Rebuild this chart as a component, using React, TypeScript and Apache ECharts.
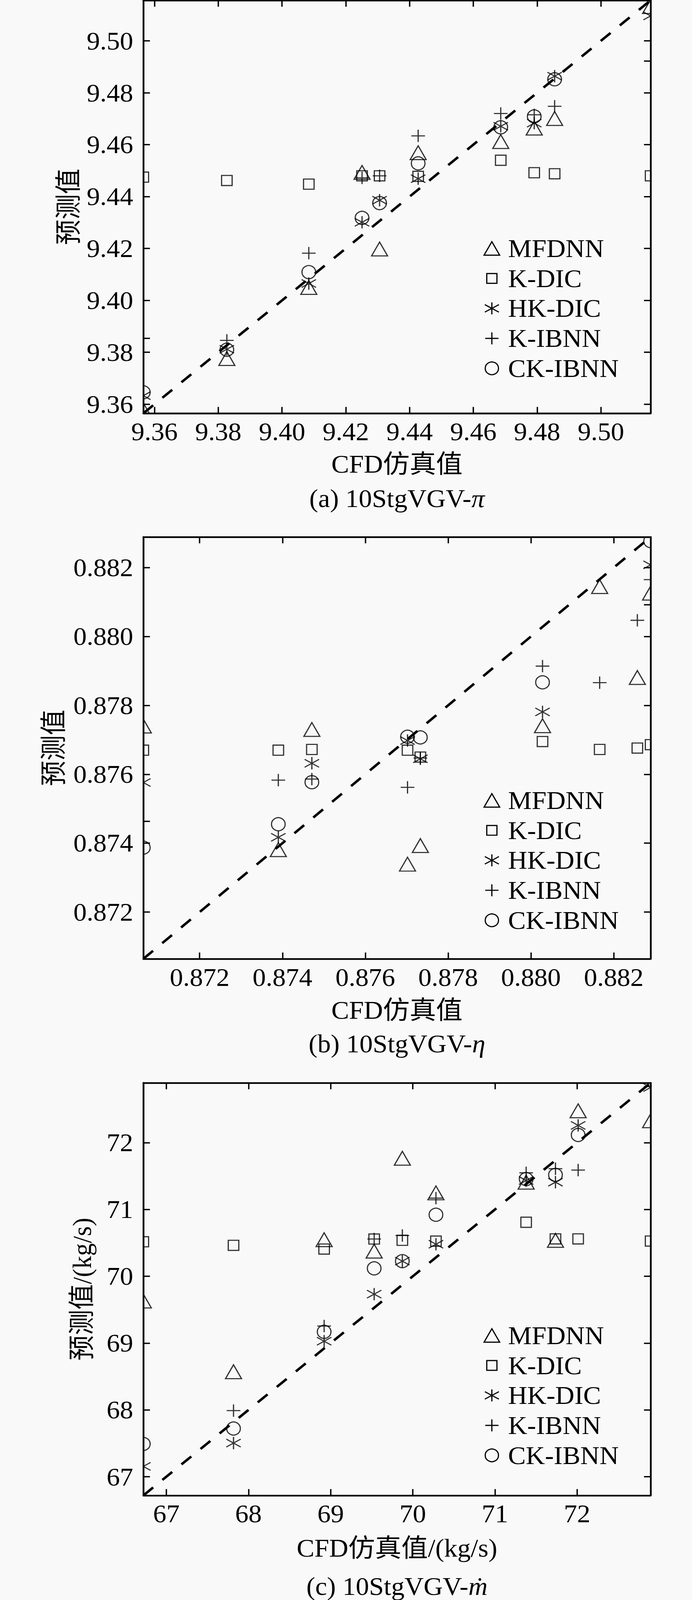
import React, { useEffect, useRef } from "react";
import * as echarts from "echarts";

// ---------------- data ----------------
const seriesNames = ["MFDNN", "K-DIC", "HK-DIC", "K-IBNN", "CK-IBNN"];

// (a) 10StgVGV-pi
const cfdA = [9.3565, 9.3827, 9.4084, 9.4251, 9.4306, 9.4427, 9.4686, 9.4791, 9.4855, 9.5156];
const mfdnnA = [9.3578, 9.3776, 9.405, 9.4493, 9.4198, 9.4569, 9.4612, 9.4664, 9.4701, 9.5132];
const kdicA = [9.4475, 9.4462, 9.4448, 9.448, 9.448, 9.4478, 9.454, 9.4492, 9.4488, 9.448];
const hkdicA = [9.3633, 9.3812, 9.4065, 9.4301, 9.4386, 9.4469, 9.4671, 9.4683, 9.4864, 9.5096];
const kibnnA = [null, 9.3846, 9.4182, 9.4472, 9.448, 9.4634, 9.472, 9.4715, 9.4748, null];
const ckibnnA = [9.3646, 9.381, 9.4109, 9.4318, 9.4375, 9.4528, 9.4667, 9.4709, 9.4852, null];

// (b) 10StgVGV-eta
const cfdB = [0.87064, 0.8739, 0.87471, 0.87702, 0.87733, 0.88028, 0.88166, 0.88257, 0.88289];
const mfdnnB = [0.8774, 0.87381, 0.8773, 0.87339, 0.87393, 0.87741, 0.88145, 0.87881, 0.88126];
const kdicB = [0.8767, 0.8767, 0.87672, 0.8767, 0.8765, 0.87695, 0.87672, 0.87676, 0.87686];
const hkdicB = [0.87576, 0.87417, 0.87632, 0.87698, 0.87645, 0.87781, null, null, 0.88208];
const kibnnB = [null, 0.87583, 0.87586, 0.87562, 0.87647, 0.87914, 0.87866, 0.88047, 0.88165];
const ckibnnB = [0.87387, 0.87455, 0.87577, 0.87709, 0.87707, 0.87867, null, null, 0.88277];

// (c) 10StgVGV-mdot
const cfdC = [66.72, 67.818, 68.921, 69.53, 69.873, 70.282, 71.38, 71.737, 72.013, 72.895];
const mfdnnC = [69.63, 68.572, 70.548, 70.377, 71.767, 71.249, 71.409, 70.538, 72.477, 72.328];
const kdicC = [70.517, 70.464, 70.408, 70.558, 70.539, 70.527, 70.809, 70.56, 70.56, 70.528];
const hkdicC = [67.155, 67.504, 69.029, 69.733, 70.227, 70.48, 71.434, 71.409, 72.259, 72.826];
const kibnnC = [null, 67.99, 69.256, 70.558, 70.611, 71.17, 71.549, 71.611, 71.59, 72.84];
const ckibnnC = [67.491, 67.722, 69.169, 70.119, 70.227, 70.922, 71.456, 71.518, 72.116, null];

// axis ranges and ticks
const rangeA = [9.3565, 9.5156];
const rangeB = [0.87064, 0.88289];
const rangeC = [66.72, 72.895];
const ticksA = [9.36, 9.38, 9.4, 9.42, 9.44, 9.46, 9.48, 9.5];
const ticksB = [0.872, 0.874, 0.876, 0.878, 0.88, 0.882];
const ticksC = [67, 68, 69, 70, 71, 72];
const extraLeftA = [9.3854];
const extraRightA = [9.4922];
const extraLeftB = [0.87463];
const extraRightB = [0.88092];

const xNames = ["CFD仿真值", "CFD仿真值", "CFD仿真值/(kg/s)"];
const yNames = ["预测值", "预测值", "预测值/(kg/s)"];
const captionHeads = ["(a) 10StgVGV-", "(b) 10StgVGV-", "(c) 10StgVGV-"];
const captionSymbols = ["π", "η", "ṁ"];

// ---------------- styling ----------------
const FONT = "'Liberation Serif', 'Times New Roman', 'Noto Sans CJK SC', serif";
const BG = "#f9f9f9";
const FS = 68;
const PAGE_W = 1772;
const PAGE_H = 4270;
const GRIDS = [
  { left: 367, top: 1, w: 1299, h: 1102 },
  { left: 367, top: 1433, w: 1299, h: 1126 },
  { left: 367, top: 2890, w: 1299, h: 1101 },
];
const Y_NAME_GAP = [157, 195, 123];
const X_NAME_GAP = [101, 103, 106];
const CAPTION_GAP = [227, 226, 242];
const LEGEND_FIRST = [663, 2136, 3564];
const LEGEND_STEP = 80;
const DECIMALS = [2, 3, 0];

const ASTERISK = "path://M0,-0.86L0,0.86M-1,-0.55L1,0.55M-1,0.55L1,-0.55";
const PLUS = "path://M0,-1L0,1M-1,0L1,0";
const SYMBOLS: any[] = [
  { symbol: "triangle", size: [41, 37] },
  { symbol: "rect", size: [27, 27] },
  { symbol: ASTERISK, size: [37, 33] },
  { symbol: PLUS, size: [35, 33] },
  { symbol: "circle", size: [35, 35] },
];

function pairs(xs: number[], ys: (number | null)[]) {
  const out: number[][] = [];
  xs.forEach((x, i) => {
    const y = ys[i];
    if (y !== null && y !== undefined) out.push([x, y]);
  });
  return out;
}

function buildOption() {
  const panels = [
    { xs: cfdA, ys: [mfdnnA, kdicA, hkdicA, kibnnA, ckibnnA], range: rangeA, ticks: ticksA, exL: extraLeftA, exR: extraRightA },
    { xs: cfdB, ys: [mfdnnB, kdicB, hkdicB, kibnnB, ckibnnB], range: rangeB, ticks: ticksB, exL: extraLeftB, exR: extraRightB },
    { xs: cfdC, ys: [mfdnnC, kdicC, hkdicC, kibnnC, ckibnnC], range: rangeC, ticks: ticksC, exL: [], exR: [] },
  ];

  const lineStyle = { color: "#000", width: 4.5 };
  const tickStyle = { color: "#000", width: 3.5 };
  const labelStyle = { fontSize: FS, fontFamily: FONT, color: "#000" };

  const xAxis: any[] = [];
  const yAxis: any[] = [];
  const series: any[] = [];
  const elements: any[] = [];

  panels.forEach((p, k) => {
    const fmt = (v: number) => Number(v).toFixed(DECIMALS[k]);
    const base = {
      type: "value",
      gridIndex: k,
      min: p.range[0],
      max: p.range[1],
      splitLine: { show: false },
      z: 10,
      nameMoveOverlap: false,
    };
    xAxis.push({
      ...base,
      position: "bottom",
      axisLine: { show: true, onZero: false, lineStyle },
      axisTick: { show: true, inside: true, length: 17, lineStyle: tickStyle, customValues: p.ticks },
      axisLabel: { show: true, margin: 15, formatter: fmt, customValues: p.ticks, ...labelStyle },
      name: xNames[k],
      nameLocation: "middle",
      nameGap: X_NAME_GAP[k],
      nameTextStyle: labelStyle,
    });
    xAxis.push({
      ...base,
      position: "top",
      axisLine: { show: true, onZero: false, lineStyle },
      axisTick: { show: true, inside: true, length: 17, lineStyle: tickStyle, customValues: p.ticks },
      axisLabel: { show: false },
    });
    yAxis.push({
      ...base,
      position: "left",
      axisLine: { show: true, onZero: false, lineStyle },
      axisTick: {
        show: true,
        inside: true,
        length: 17,
        lineStyle: tickStyle,
        customValues: [...p.ticks, ...p.exL].sort((a, b) => a - b),
      },
      axisLabel: { show: true, margin: 26, formatter: fmt, customValues: p.ticks, ...labelStyle },
      name: yNames[k],
      nameLocation: "middle",
      nameGap: Y_NAME_GAP[k],
      nameTextStyle: labelStyle,
    });
    yAxis.push({
      ...base,
      position: "right",
      axisLine: { show: true, onZero: false, lineStyle },
      axisTick: {
        show: true,
        inside: true,
        length: 17,
        lineStyle: tickStyle,
        customValues: [...p.ticks, ...p.exR].sort((a, b) => a - b),
      },
      axisLabel: { show: false },
    });

    series.push({
      type: "line",
      xAxisIndex: 2 * k,
      yAxisIndex: 2 * k,
      data: [
        [p.range[0], p.range[0]],
        [p.range[1], p.range[1]],
      ],
      symbol: "none",
      clip: false,
      silent: true,
      z: 1,
      lineStyle: { color: "#000", width: 6.5, type: [33, 31], cap: "butt" },
    });

    seriesNames.forEach((name, s) => {
      series.push({
        type: "scatter",
        name,
        xAxisIndex: 2 * k,
        yAxisIndex: 2 * k,
        data: pairs(p.xs, p.ys[s]),
        symbol: SYMBOLS[s].symbol,
        symbolSize: SYMBOLS[s].size,
        clip: false,
        silent: true,
        z: 2,
        itemStyle: { color: "rgba(0,0,0,0)", borderColor: "#000", borderWidth: 3 },
      });
    });

    // masks that clip half-symbols at the frame
    const g = GRIDS[k];
    const m = 45;
    const maskStyle = { fill: BG };
    elements.push(
      { type: "rect", z: 5, silent: true, shape: { x: g.left - m, y: g.top - m, width: m, height: g.h + 2 * m }, style: maskStyle },
      { type: "rect", z: 5, silent: true, shape: { x: g.left + g.w, y: g.top - m, width: m, height: g.h + 2 * m }, style: maskStyle },
      { type: "rect", z: 5, silent: true, shape: { x: g.left - m, y: g.top - m, width: g.w + 2 * m, height: m }, style: maskStyle },
      { type: "rect", z: 5, silent: true, shape: { x: g.left - m, y: g.top + g.h, width: g.w + 2 * m, height: m }, style: maskStyle }
    );

    // legend
    const cx = 1259.5;
    const tx = 1301;
    const sty = { fill: "none", stroke: "#000", lineWidth: 3 };
    seriesNames.forEach((name, s) => {
      const cy = LEGEND_FIRST[k] + s * LEGEND_STEP;
      if (s === 0) {
        elements.push({ type: "polygon", z: 6, silent: true, shape: { points: [[cx - 20, cy + 18], [cx + 20, cy + 18], [cx, cy - 18]] }, style: sty });
      } else if (s === 1) {
        elements.push({ type: "rect", z: 6, silent: true, shape: { x: cx - 13, y: cy - 13, width: 26, height: 26 }, style: sty });
      } else if (s === 2) {
        elements.push(
          { type: "line", z: 6, silent: true, shape: { x1: cx, y1: cy - 16, x2: cx, y2: cy + 16 }, style: sty },
          { type: "line", z: 6, silent: true, shape: { x1: cx - 18, y1: cy - 10, x2: cx + 18, y2: cy + 10 }, style: sty },
          { type: "line", z: 6, silent: true, shape: { x1: cx - 18, y1: cy + 10, x2: cx + 18, y2: cy - 10 }, style: sty }
        );
      } else if (s === 3) {
        elements.push(
          { type: "line", z: 6, silent: true, shape: { x1: cx, y1: cy - 16, x2: cx, y2: cy + 16 }, style: sty },
          { type: "line", z: 6, silent: true, shape: { x1: cx - 17, y1: cy, x2: cx + 17, y2: cy }, style: sty }
        );
      } else {
        elements.push({ type: "circle", z: 6, silent: true, shape: { cx, cy, r: 17 }, style: sty });
      }
      elements.push({
        type: "text",
        z: 6,
        silent: true,
        x: tx,
        y: cy,
        style: { text: name, fontSize: FS, fontFamily: FONT, fill: "#000", align: "left", verticalAlign: "middle" },
      });
    });

    // caption
    elements.push({
      type: "text",
      z: 6,
      silent: true,
      x: g.left + g.w / 2,
      y: g.top + g.h + CAPTION_GAP[k],
      style: {
        text: captionHeads[k] + "{i|" + captionSymbols[k] + "}",
        fontSize: FS,
        fontFamily: FONT,
        fill: "#000",
        align: "center",
        verticalAlign: "middle",
        rich: { i: { fontSize: FS, fontFamily: FONT, fontStyle: "italic", fill: "#000" } },
      },
    });
  });

  return {
    animation: false,
    backgroundColor: BG,
    grid: GRIDS.map((g) => ({
      left: g.left,
      top: g.top,
      width: g.w,
      height: g.h,
      show: false,
      containLabel: false,
      outerBoundsMode: "none",
    })),
    xAxis,
    yAxis,
    series,
    graphic: { elements },
  };
}

export default function App() {
  const ref = useRef<HTMLDivElement>(null);
  // the browser caps the viewport height below the requested 4270 px,
  // so the full-size layout is squeezed vertically to fit what is visible
  const vh = typeof window !== "undefined" ? window.innerHeight : PAGE_H;
  const sy = Math.min(1, vh / PAGE_H);
  useEffect(() => {
    document.body.style.margin = "0";
    document.body.style.overflow = "hidden";
    document.documentElement.style.overflow = "hidden";
    if (!ref.current) return;
    const chart = echarts.init(ref.current, null, { renderer: "svg" });
    chart.setOption(buildOption() as any);
    return () => chart.dispose();
  }, []);
  return (
    <div
      ref={ref}
      style={{
        position: "absolute",
        left: 0,
        top: 0,
        width: PAGE_W,
        height: PAGE_H,
        background: BG,
        transformOrigin: "0 0",
        transform: `scaleY(${sy})`,
      }}
    />
  );
}
